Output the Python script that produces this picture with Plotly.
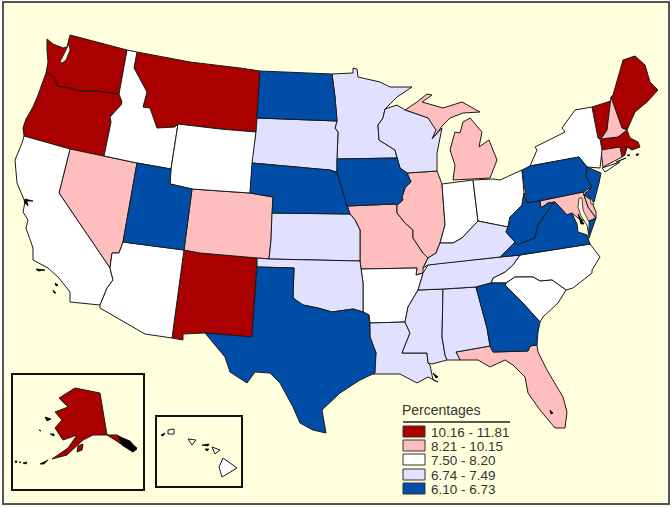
import plotly.graph_objects as go

# state outlines (map units = picture pixels)
outlines = {
    'WA': [[(47,39),(53,44),(63,48),(67,47),(70,35),(100,43),(127,50),(119,94),(97,91),(80,91),(70,88),(57,86),(55,78),(50,74),(46,73),(48,62),(47,50)]],
    'OR': [[(46,73),(50,74),(55,78),(57,86),(70,88),(80,91),(97,91),(119,94),(122,102),(121,105),(110,117),(111,122),(104,156),(70,149),(24,136),(23,128),(26,119),(33,107),(38,95),(44,80)]],
    'CA': [[(24,136),(70,149),(59,193),(110,268),(113,280),(107,288),(103,298),(100,305),(70,302),(70,292),(58,277),(48,268),(33,260),(33,248),(26,228),(28,220),(23,212),(25,202),(17,183),(15,160),(22,143)]],
    'NV': [[(70,149),(104,156),(137,163),(123,242),(119,253),(112,253),(110,268),(59,193)]],
    'ID': [[(127,50),(137,52),(134,68),(147,92),(143,107),(150,108),(157,128),(175,127),(178,124),(171,169),(137,163),(104,156),(111,122),(110,117),(121,105),(122,102),(119,94)]],
    'MT': [[(137,52),(190,62),(240,68),(260,71),(256,132),(220,129),(178,124),(175,127),(157,128),(150,108),(143,107),(147,92),(134,68)]],
    'WY': [[(178,124),(220,129),(256,132),(253,163),(250,193),(220,191),(192,189),(170,184),(171,169)]],
    'UT': [[(137,163),(171,169),(170,184),(192,189),(184,250),(123,242)]],
    'CO': [[(192,189),(220,191),(250,193),(273,197),(272,213),(271,240),(269,259),(257,258),(200,253),(184,250)]],
    'AZ': [[(123,242),(184,250),(172,338),(145,334),(100,308),(100,305),(103,298),(107,288),(113,280),(110,268),(112,253),(119,253)]],
    'NM': [[(184,250),(200,253),(257,258),(252,337),(205,333),(183,334),(183,340),(172,338)]],
    'ND': [[(260,71),(300,73),(332,74),(335,97),(337,121),(257,118)]],
    'SD': [[(257,118),(337,121),(335,128),(338,132),(337,159),(337,172),(330,170),(317,169),(252,163),(256,132)]],
    'NE': [[(252,163),(317,169),(330,170),(337,173),(343,192),(347,205),(350,214),(272,213),(273,197),(250,193)]],
    'KS': [[(272,213),(350,214),(355,220),(360,230),(360,261),(269,259),(271,240)]],
    'OK': [[(257,258),(269,259),(360,261),(361,269),(363,283),(363,312),(353,309),(332,312),(318,308),(303,305),(293,298),(294,268),(257,267)]],
    'TX': [[(257,267),(294,268),(293,298),(303,305),(318,308),(332,312),(353,309),(363,312),(369,315),(370,337),(376,353),(375,373),(360,380),(340,393),(322,410),(326,433),(313,430),(300,423),(293,407),(280,383),(270,373),(255,372),(247,383),(230,372),(225,357),(205,333),(252,337)]],
    'MN': [[(332,74),(353,73),(353,68),(357,69),(358,77),(380,82),(390,87),(412,87),(397,97),(385,109),(383,118),(378,125),(379,140),(395,150),(397,158),(337,159),(338,132),(335,128),(337,121),(335,97)]],
    'IA': [[(337,159),(397,158),(400,168),(407,173),(411,182),(405,188),(402,197),(403,200),(397,205),(395,204),(347,206),(343,192),(337,172)]],
    'MO': [[(347,206),(395,204),(397,205),(397,213),(405,223),(413,230),(413,238),(423,253),(428,258),(423,268),(423,273),(416,275),(417,268),(361,269),(360,261),(360,230),(355,220),(350,214)]],
    'AR': [[(361,269),(417,268),(416,275),(423,273),(422,277),(418,290),(408,307),(405,322),(370,323),(369,315),(363,312),(363,283)]],
    'LA': [[(370,323),(405,322),(410,333),(402,353),(427,353),(428,363),(430,365),(433,380),(438,382),(428,377),(417,383),(400,374),(373,374),(376,353),(370,337)]],
    'WI': [[(385,109),(397,105),(405,110),(428,118),(436,130),(432,139),(442,128),(437,153),(437,171),(407,173),(400,168),(397,158),(395,150),(379,140),(378,125),(383,118)]],
    'IL': [[(407,173),(437,171),(442,184),(445,225),(440,243),(436,253),(428,258),(423,253),(413,238),(413,230),(405,223),(397,213),(397,205),(403,200),(402,197),(405,188),(411,182)]],
    'MI': [[(405,110),(417,102),(427,94),(432,95),(422,102),(443,108),(462,102),(472,108),(480,112),(463,113),(450,118),(443,125),(433,138),(435,130),(428,118)],
           [(470,118),(482,132),(479,147),(489,140),(497,160),(490,178),(453,180),(455,165),(450,150),(455,132),(460,133),(463,122)]],
    'IN': [[(442,184),(473,180),(478,221),(470,230),(462,238),(453,243),(440,243),(445,225)]],
    'OH': [[(473,180),(493,179),(500,180),(522,170),(524,193),(522,205),(510,217),(508,227),(498,225),(483,222),(478,221)]],
    'KY': [[(440,243),(453,243),(462,238),(470,230),(478,221),(483,222),(498,225),(508,227),(506,232),(515,242),(500,257),(442,263),(428,265),(423,268),(428,258),(436,253)]],
    'TN': [[(520,255),(500,257),(442,263),(428,265),(423,273),(422,277),(418,290),(443,289),(476,287),(491,283),(493,278),(505,272),(513,265)]],
    'MS': [[(418,290),(443,289),(442,337),(445,355),(447,360),(432,364),(428,363),(427,353),(402,353),(410,333),(405,322),(408,307)]],
    'AL': [[(443,289),(476,287),(487,328),(490,346),(456,352),(460,360),(447,360),(445,355),(442,337)]],
    'GA': [[(476,287),(491,283),(506,283),(505,285),(522,302),(540,322),(538,332),(537,345),(530,346),(528,351),(493,352),(490,346),(487,328)]],
    'FL': [[(456,352),(490,346),(493,352),(528,351),(530,346),(537,345),(538,352),(547,370),(563,397),(567,412),(565,428),(555,428),(540,410),(528,393),(525,377),(513,365),(505,360),(490,367),(478,360),(460,360)]],
    'SC': [[(506,283),(515,277),(533,277),(540,281),(552,280),(566,290),(558,303),(543,317),(540,322),(522,302),(505,285)]],
    'NC': [[(520,255),(590,244),(600,257),(592,270),(592,273),(573,288),(566,290),(552,280),(540,281),(533,277),(515,277),(506,283),(491,283),(493,278),(505,272),(513,265)]],
    'VA': [[(500,257),(520,255),(590,244),(587,235),(578,232),(577,224),(572,213),(567,215),(555,202),(550,208),(538,225),(535,238),(517,245),(515,242)],
           [(587,222),(596,218),(589,238)]],
    'WV': [[(524,193),(527,203),(540,201),(541,208),(548,203),(555,202),(550,208),(538,225),(535,238),(517,245),(515,242),(506,232),(508,227),(510,217),(522,205)]],
    'MD': [[(540,201),(583,192),(588,207),(596,218),(587,222),(578,218),(572,213),(567,215),(555,202),(548,203),(541,208)]],
    'DE': [[(583,192),(588,192),(590,198),(596,212),(596,218),(588,207)]],
    'DC': [[(571,204),(576,209),(571,214),(566,209)]],
    'PA': [[(522,170),(530,166),(579,157),(587,167),(586,177),(592,187),(583,192),(527,203)]],
    'NJ': [[(587,167),(601,173),(599,183),(594,202),(584,195),(592,187),(586,177)]],
    'NY': [[(592,107),(575,110),(562,128),(565,132),(535,147),(537,150),(530,166),(579,157),(587,167),(600,168),(602,150),(600,139),(598,138)],
           [(602,168),(620,162),(605,172)]],
    'VT': [[(592,107),(611,101),(607,130),(601,139),(598,138)]],
    'NH': [[(611,97),(622,128),(627,130),(618,137),(601,139),(607,130)]],
    'ME': [[(613,95),(623,60),(635,56),(645,65),(650,82),(658,90),(647,102),(635,112),(627,130),(622,128),(611,97)]],
    'MA': [[(601,139),(618,137),(627,130),(630,138),(638,142),(640,147),(632,150),(627,147),(601,150)]],
    'CT': [[(601,150),(620,147),(622,157),(603,167)]],
    'RI': [[(620,147),(627,147),(625,155),(622,157)]],
    'AK': [[(75,388),(100,393),(107,435),(117,435),(137,448),(133,452),(115,440),(107,435),(93,435),(83,440),(67,455),(52,459),(68,448),(77,435),(63,440),(55,428),(62,420),(55,412),(68,407),(59,398),(67,393)],
           [(78,446),(83,444),(82,450),(77,452)]],
    'HI': [[(223,458),(237,468),(222,477),(219,467)],
           [(212,447),(220,450),(215,454)],
           [(188,439),(196,440),(192,445)],
           [(168,430),(174,429),(174,434),(168,434)]],
}

# map classes
class_labels = ['10.16 - 11.81', '8.21 - 10.15', '7.50 - 8.20', '6.74 - 7.49', '6.10 - 6.73']
class_colors = ['#AA0000', '#FFBEBE', '#FFFFFF', '#E1E1FF', '#004DA8']
class_1 = ['WA', 'OR', 'MT', 'NM', 'ME', 'VT', 'MA', 'RI', 'DC', 'AK']
class_2 = ['NV', 'CO', 'MO', 'IL', 'MI', 'FL', 'NH', 'CT', 'MD', 'DE']
class_3 = ['CA', 'ID', 'WY', 'AZ', 'AR', 'IN', 'OH', 'NC', 'SC', 'NY', 'HI']
class_4 = ['MN', 'WI', 'SD', 'KS', 'OK', 'LA', 'MS', 'AL', 'TN', 'KY']
class_5 = ['ND', 'NE', 'IA', 'UT', 'TX', 'GA', 'PA', 'NJ', 'WV', 'VA']
classes = [class_1, class_2, class_3, class_4, class_5]

# bays and small islands
water = [
    [(60,62),(65,52),(69,44),(70,50),(66,60),(62,63)],
    [(579,198),(578,207),(581,216),(587,225),(589,233),(589,222),(583,210),(582,198)],
    [(590,196),(594,204),(591,204)],
]
black_bits = [
    [(25,199),(33,201),(27,201),(28,206),(24,202)],
    [(36,269),(45,270),(38,271)], [(55,283),(58,285),(56,286)], [(53,290),(56,293),(54,293)],
    [(118,436),(130,441),(137,449),(133,452),(122,445)],
    [(45,417),(51,419),(47,421)], [(39,430),(41,431),(40,431)], [(50,434),(54,434),(54,436)],
    [(15,461),(17,461),(16,463)], [(19,462),(21,462),(20,463)], [(23,463),(27,462),(26,464)],
    [(40,464),(48,460),(44,464)],
    [(202,445),(209,444),(208,446)], [(205,449),(209,449),(207,451)], [(161,435),(165,433),(163,436)],
    [(578,214),(584,224),(581,224)], [(433,373),(438,377),(436,378)], [(550,410),(553,413),(551,414)],
    [(616,162),(626,158),(620,161)], [(627,155),(630,155),(628,156)], [(636,154),(639,154),(637,156)],
]


def flat(polys):
    xs, ys = [], []
    for poly in polys:
        xs += [p[0] for p in poly] + [poly[0][0], None]
        ys += [p[1] for p in poly] + [poly[0][1], None]
    return xs, ys


def add_area(fig, polys, color, name, width=1.0, line='#1a1a1a'):
    xs, ys = flat(polys)
    fig.add_trace(go.Scatter(x=xs, y=ys, mode='lines', fill='toself', fillcolor=color,
                             line=dict(color=line, width=width), name=name,
                             hoverinfo='name', showlegend=False))


fig = go.Figure()
for states, color in zip(classes, class_colors):
    for st in states:
        add_area(fig, outlines[st], color, st)
add_area(fig, water, '#FFFFDD', 'water', width=0.8)
add_area(fig, black_bits, '#000000', 'coast', width=0.8, line='#000000')

# frame and inset boxes
fig.add_shape(type='rect', x0=3, y0=2, x1=669, y1=504, line=dict(color='#555555', width=2),
              fillcolor='#FFFFDD', layer='below')
for x0, y0, x1, y1 in [(12, 374, 144, 490), (156, 416, 242, 487)]:
    fig.add_shape(type='rect', x0=x0, y0=y0, x1=x1, y1=y1, line=dict(color='#111111', width=2), layer='below')

# legend
fig.add_annotation(x=402, y=410, text='Percentages', showarrow=False, xanchor='left', xshift=-2,
                   font=dict(family='Liberation Sans', size=14, color='#333333'))
fig.add_shape(type='line', x0=403, y0=422, x1=510, y1=422, line=dict(color='#222222', width=1.5))
legend_tops = [426, 440, 454, 469, 483]
for top, label, color in zip(legend_tops, class_labels, class_colors):
    fig.add_shape(type='rect', x0=403, y0=top, x1=425, y1=top + 11, fillcolor=color,
                  line=dict(color='#333333', width=1))
    fig.add_annotation(x=431, y=top + 6, text=label, showarrow=False, xanchor='left', xshift=-2,
                       font=dict(family='Liberation Sans', size=13.5, color='#333333'))

fig.update_xaxes(range=[0, 672], visible=False, fixedrange=True)
fig.update_yaxes(range=[508, 0], visible=False, fixedrange=True)
fig.update_layout(width=672, height=508, margin=dict(l=0, r=0, t=0, b=0),
                  paper_bgcolor='white', plot_bgcolor='white', showlegend=False)
# the page's default body margin would push the map off by 8 px
fig.write_html("out.html", config=dict(displayModeBar=False),
               post_script="document.body.style.margin='0';document.body.style.overflow='hidden';")
